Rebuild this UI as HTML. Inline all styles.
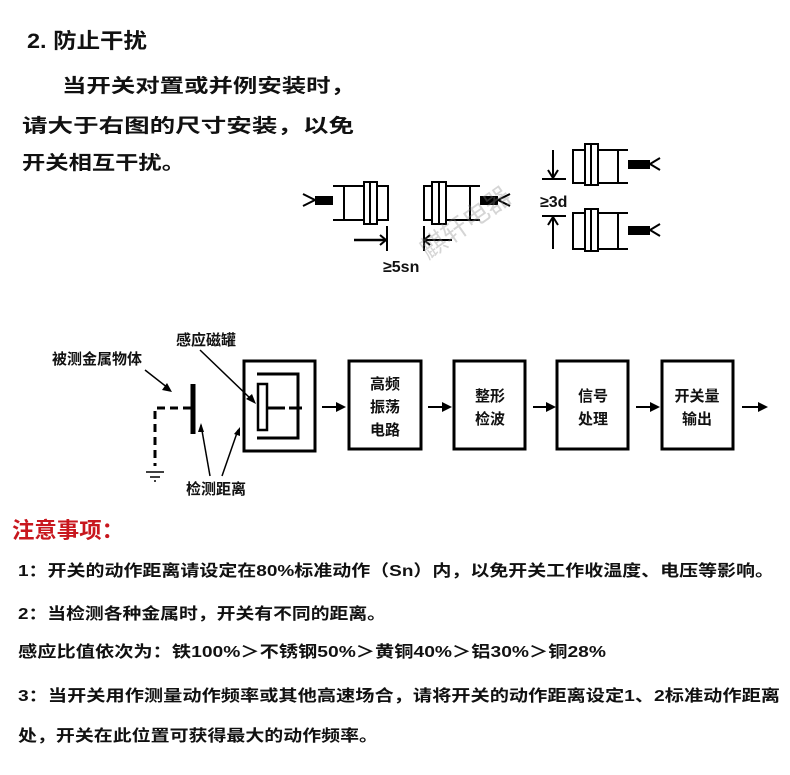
<!DOCTYPE html>
<html><head><meta charset="utf-8"><style>
html,body{margin:0;padding:0;background:#fff;}
svg{display:block;}
text{font-family:"Liberation Sans","Noto Sans CJK SC",sans-serif;fill:#111;}
</style></head><body>
<svg width="790" height="775" viewBox="0 0 790 775" xmlns="http://www.w3.org/2000/svg">
<text x="27" y="48" font-size="21" font-weight="bold" textLength="120" lengthAdjust="spacingAndGlyphs">2. 防止干扰</text>
<text x="62" y="92" font-size="19" font-weight="bold" textLength="293" lengthAdjust="spacingAndGlyphs">当开关对置或并例安装时，</text>
<text x="22" y="132" font-size="19" font-weight="bold" textLength="332" lengthAdjust="spacingAndGlyphs">请大于右图的尺寸安装，以免</text>
<text x="22" y="169" font-size="19" font-weight="bold" textLength="163" lengthAdjust="spacingAndGlyphs">开关相互干扰。</text>

<g stroke="#000" fill="none" stroke-width="2">
<rect x="315" y="196" width="18" height="9" fill="#000" stroke="none"/>
<path d="M303 194 L315 200 L303 206"/>
<path d="M333 186 L388 186 L388 220 L333 220"/><line x1="344" y1="186" x2="344" y2="220"/>
<rect x="364" y="182" width="13" height="42" fill="#fff"/><line x1="370" y1="182" x2="370" y2="224"/>
<path d="M480 186 L424 186 L424 220 L480 220"/><line x1="470" y1="186" x2="470" y2="220"/>
<rect x="432" y="182" width="14" height="42" fill="#fff"/><line x1="439" y1="182" x2="439" y2="224"/>
<rect x="480" y="196" width="18" height="9" fill="#000" stroke="none"/>
<path d="M510 194 L498 200 L510 206"/>
<path d="M628 150 L573 150 L573 183 L628 183"/><line x1="618" y1="150" x2="618" y2="183"/>
<rect x="585" y="144" width="13" height="41" fill="#fff"/><line x1="591" y1="144" x2="591" y2="185"/>
<rect x="628" y="160" width="22" height="9" fill="#000" stroke="none"/>
<path d="M660 158 L650 164 L660 170"/>
<path d="M628 213 L573 213 L573 249 L628 249"/><line x1="618" y1="213" x2="618" y2="249"/>
<rect x="585" y="209" width="13" height="42" fill="#fff"/><line x1="591" y1="209" x2="591" y2="251"/>
<rect x="628" y="226" width="22" height="9" fill="#000" stroke="none"/>
<path d="M660 224 L650 230 L660 236"/>
<line x1="553" y1="150" x2="553" y2="178"/><path d="M548 170 L553 178 L558 170"/>
<line x1="542" y1="179" x2="566" y2="179"/>
<line x1="542" y1="216" x2="566" y2="216"/>
<line x1="553" y1="217" x2="553" y2="249"/><path d="M548 225 L553 217 L558 225"/>
<line x1="354" y1="240" x2="386" y2="240" stroke-width="2.5"/><path d="M380 235 L386 240 L380 245"/>
<line x1="387" y1="226" x2="387" y2="251"/>
<line x1="424" y1="226" x2="424" y2="251"/>
<line x1="424" y1="240" x2="452" y2="240"/><path d="M430 235 L424 240 L430 245"/>
</g>
<text x="540" y="207" font-size="16" font-weight="bold">≥3d</text>
<text x="383" y="272" font-size="16" font-weight="bold">≥5sn</text>
<text x="428" y="260" font-size="26" opacity="0.35" transform="rotate(-35 428 260)" style="fill:#888">麒轩电器</text>

<g stroke="#000" fill="none" stroke-width="3">
<rect x="244" y="361" width="71" height="90"/>
<rect x="349" y="361" width="72" height="88"/>
<rect x="454" y="361" width="71" height="88"/>
<rect x="557" y="361" width="71" height="88"/>
<rect x="662" y="361" width="71" height="88"/>
<path d="M257 374 L298 374 L298 438 L257 438" stroke-width="3"/>
<rect x="258" y="384" width="9" height="46" stroke-width="2.5"/>
<line x1="267" y1="408" x2="285" y2="408"/>
<line x1="289" y1="408" x2="302" y2="408"/>
<line x1="193" y1="384" x2="193" y2="434" stroke-width="5"/>
<path d="M191 408 L155 408 L155 466" stroke-dasharray="8,5"/>
</g>
<g stroke="#000" stroke-width="1.5">
<line x1="146" y1="472" x2="164" y2="472"/><line x1="150" y1="477" x2="160" y2="477"/><line x1="154" y1="481" x2="156" y2="481"/>
<line x1="145" y1="370" x2="168" y2="388"/><line x1="200" y1="350" x2="252" y2="400"/>
<line x1="201" y1="425" x2="210" y2="476"/><line x1="238" y1="430" x2="222" y2="476"/>
</g>
<g fill="#000">
<path d="M172 392 L162 390 L167 383Z"/><path d="M256 404 L246 399 L252 394Z"/>
<path d="M201 423 L204 432 L198 432Z"/><path d="M240 427 L240 436 L234 434Z"/>
</g>
<g stroke="#000" stroke-width="2">
<line x1="322" y1="407" x2="338" y2="407"/><line x1="428" y1="407" x2="444" y2="407"/>
<line x1="533" y1="407" x2="548" y2="407"/><line x1="636" y1="407" x2="652" y2="407"/>
<line x1="742" y1="407" x2="758" y2="407"/>
</g>
<g fill="#000">
<path d="M346 407 L336 402 L336 412Z"/><path d="M452 407 L442 402 L442 412Z"/>
<path d="M556 407 L546 402 L546 412Z"/><path d="M660 407 L650 402 L650 412Z"/>
<path d="M768 407 L758 402 L758 412Z"/>
</g>
<g font-size="15" font-weight="bold" text-anchor="middle">
<text x="385" y="389">高频</text><text x="385" y="412">振荡</text><text x="385" y="435">电路</text>
<text x="490" y="401">整形</text><text x="490" y="424">检波</text>
<text x="593" y="401">信号</text><text x="593" y="424">处理</text>
<text x="697" y="401">开关量</text><text x="697" y="424">输出</text>
</g>
<text x="52" y="364" font-size="15" font-weight="bold">被测金属物体</text>
<text x="176" y="345" font-size="15" font-weight="bold">感应磁罐</text>
<text x="186" y="494" font-size="15" font-weight="bold">检测距离</text>

<text x="12" y="538" font-size="22" font-weight="bold" style="fill:#c8171e" textLength="112" lengthAdjust="spacingAndGlyphs">注意事项：</text>
<g font-size="16" font-weight="bold">
<text x="18" y="576" textLength="756" lengthAdjust="spacingAndGlyphs">1：开关的动作距离请设定在80%标准动作（Sn）内，以免开关工作收温度、电压等影响。</text>
<text x="18" y="619" textLength="368" lengthAdjust="spacingAndGlyphs">2：当检测各种金属时，开关有不同的距离。</text>
<text x="18" y="657" textLength="588" lengthAdjust="spacingAndGlyphs">感应比值依次为：铁100%＞不锈钢50%＞黄铜40%＞铝30%＞铜28%</text>
<text x="18" y="701" textLength="762" lengthAdjust="spacingAndGlyphs">3：当开关用作测量动作频率或其他高速场合，请将开关的动作距离设定1、2标准动作距离</text>
<text x="18" y="741" textLength="360" lengthAdjust="spacingAndGlyphs">处，开关在此位置可获得最大的动作频率。</text>
</g>
</svg>
</body></html>
